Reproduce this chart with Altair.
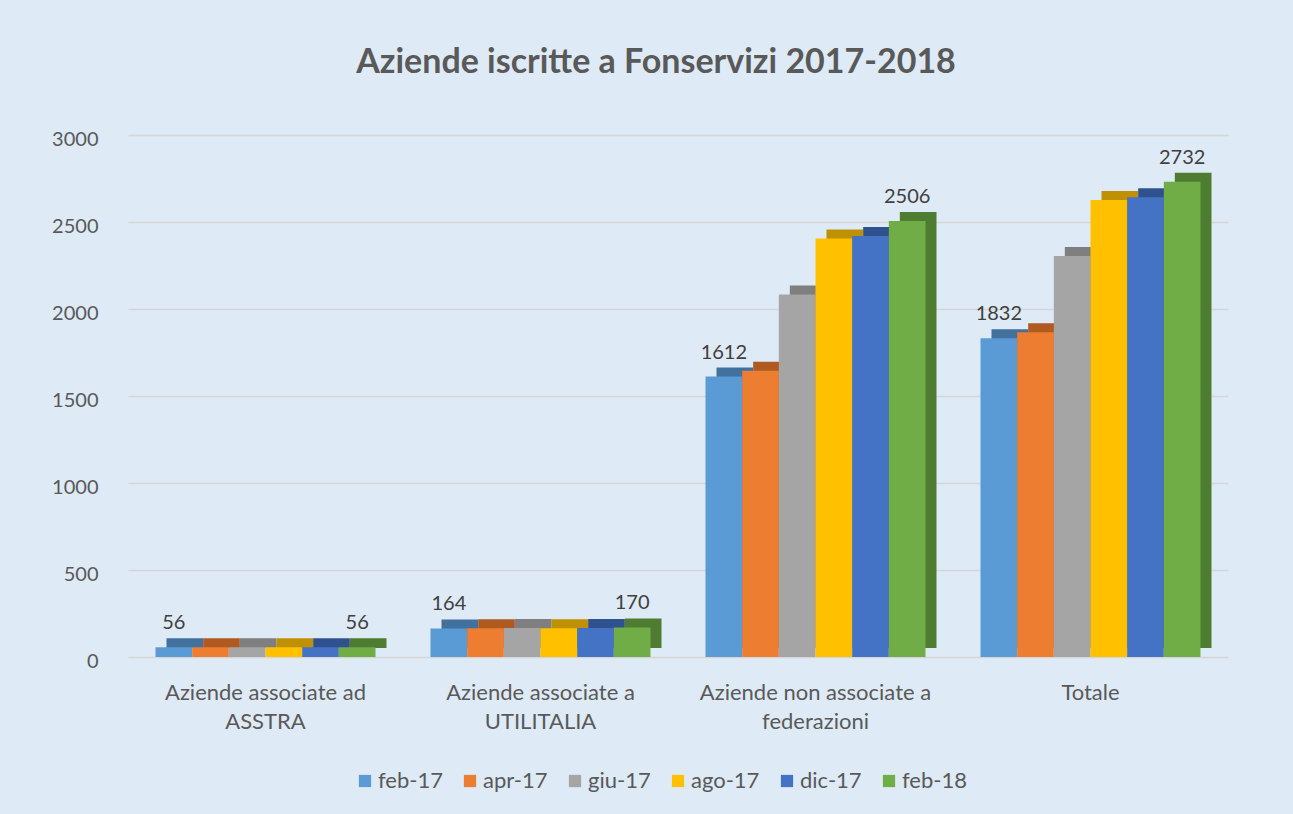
import altair as alt
import pandas as pd

categories = [
    "Aziende associate ad ASSTRA",
    "Aziende associate a UTILITALIA",
    "Aziende non associate a federazioni",
    "Totale",
]
series = ["feb-17", "apr-17", "giu-17", "ago-17", "dic-17", "feb-18"]
colors = ["#5B9BD5", "#ED7D31", "#A5A5A5", "#FFC000", "#4472C4", "#70AD47"]
shade_colors = ["#41719C", "#AE5A21", "#7F7F7F", "#BF9000", "#2F528F", "#4E7D31"]

asstra = [56, 56, 56, 56, 56, 56]
utilitalia = [164, 165, 166, 165, 166, 170]
non_associate = [1612, 1645, 2083, 2405, 2420, 2506]
totale = [1832, 1866, 2305, 2626, 2642, 2732]
labelled_series = ["feb-17", "feb-18"]

rows = []
for cat, vals in zip(categories, [asstra, utilitalia, non_associate, totale]):
    for s, v in zip(series, vals):
        rows.append({"categoria": cat, "periodo": s, "valore": v})
df = pd.DataFrame(rows)

FONT = "Lato"
TXT = "#595959"
BAND = 220  # pixel width of one category band
DEPTH_X = 11

x_enc = alt.X(
    "categoria:N",
    sort=categories,
    title=None,
    scale=alt.Scale(paddingInner=0.2, paddingOuter=0.1),
    axis=alt.Axis(
        labelAngle=0,
        labelFont=FONT,
        labelFontSize=22,
        labelColor=TXT,
        labelPadding=25,
        labelLineHeight=29,
        labelLimit=500,
        labelExpr="lastindexof(datum.label,' ') > 0 ? [substring(datum.label,0,lastindexof(datum.label,' ')), substring(datum.label,lastindexof(datum.label,' ')+1)] : datum.label",
        domain=False,
        ticks=False,
        grid=False,
    ),
)
y_enc = alt.Y(
    "valore:Q",
    title=None,
    scale=alt.Scale(domain=[0, 3000], nice=False),
    axis=alt.Axis(
        values=[0, 500, 1000, 1500, 2000, 2500, 3000],
        format="d",
        labelFont=FONT,
        labelFontSize=20,
        labelColor=TXT,
        labelPadding=30,
        labelOffset=4,
        domain=False,
        ticks=False,
        gridColor="#D6D6D6",
        gridWidth=1.5,
    ),
)

# darker depth faces (top and side) of the 3D columns
depth = alt.Chart(df).mark_bar(yOffset=-9).encode(
    x=x_enc,
    xOffset=alt.XOffset(
        "periodo:N",
        sort=series,
        scale=alt.Scale(type="band", domain=series, range=[DEPTH_X, BAND + DEPTH_X], paddingInner=0, paddingOuter=0),
    ),
    y=y_enc,
    color=alt.Color(
        "periodo:N",
        sort=series,
        scale=alt.Scale(domain=series, range=shade_colors),
        legend=None,
    ),
)

bars = alt.Chart(df).mark_bar().encode(
    x=x_enc,
    xOffset=alt.XOffset(
        "periodo:N",
        sort=series,
        scale=alt.Scale(type="band", domain=series, range=[0, BAND], paddingInner=0, paddingOuter=0),
    ),
    y=y_enc,
    fill=alt.Fill(
        "periodo:N",
        sort=series,
        scale=alt.Scale(domain=series, range=colors),
        legend=alt.Legend(
            title=None,
            orient="none",
            direction="horizontal",
            legendX=226,
            legendY=635,
            symbolType="square",
            symbolSize=150,
            symbolStrokeWidth=0,
            labelFont=FONT,
            labelFontSize=22,
            labelColor=TXT,
            labelOffset=2,
            columnPadding=16,
        ),
    ),
)

labels = (
    alt.Chart(df)
    .transform_filter(alt.FieldOneOfPredicate(field="periodo", oneOf=labelled_series))
    .mark_text(baseline="bottom", dy=-14, font=FONT, fontSize=20, color="#404040")
    .encode(
        x=alt.X("categoria:N", sort=categories),
        xOffset=alt.XOffset(
            "periodo:N",
            sort=series,
            scale=alt.Scale(type="band", domain=series, range=[0, BAND], paddingInner=0, paddingOuter=0),
        ),
        y="valore:Q",
        text="valore:Q",
    )
)

chart = (
    alt.layer(depth, bars, labels)
    .resolve_scale(color="independent", xOffset="independent")
    .properties(
        width=1100,
        height=522,
        autosize=alt.AutoSizeParams(type="none"),
        padding={"left": 128, "top": 135, "right": 65, "bottom": 157},
        background="#DEEAF6",
        title=alt.TitleParams(
            "Aziende iscritte a Fonservizi 2017-2018",
            font=FONT,
            fontSize=34,
            fontWeight="bold",
            color=TXT,
            anchor="middle",
            dx=-22,
            offset=49,
        ),
    )
    .configure_view(stroke=None)
)

chart.save("out.html", embed_options={"renderer": "svg", "actions": False})
